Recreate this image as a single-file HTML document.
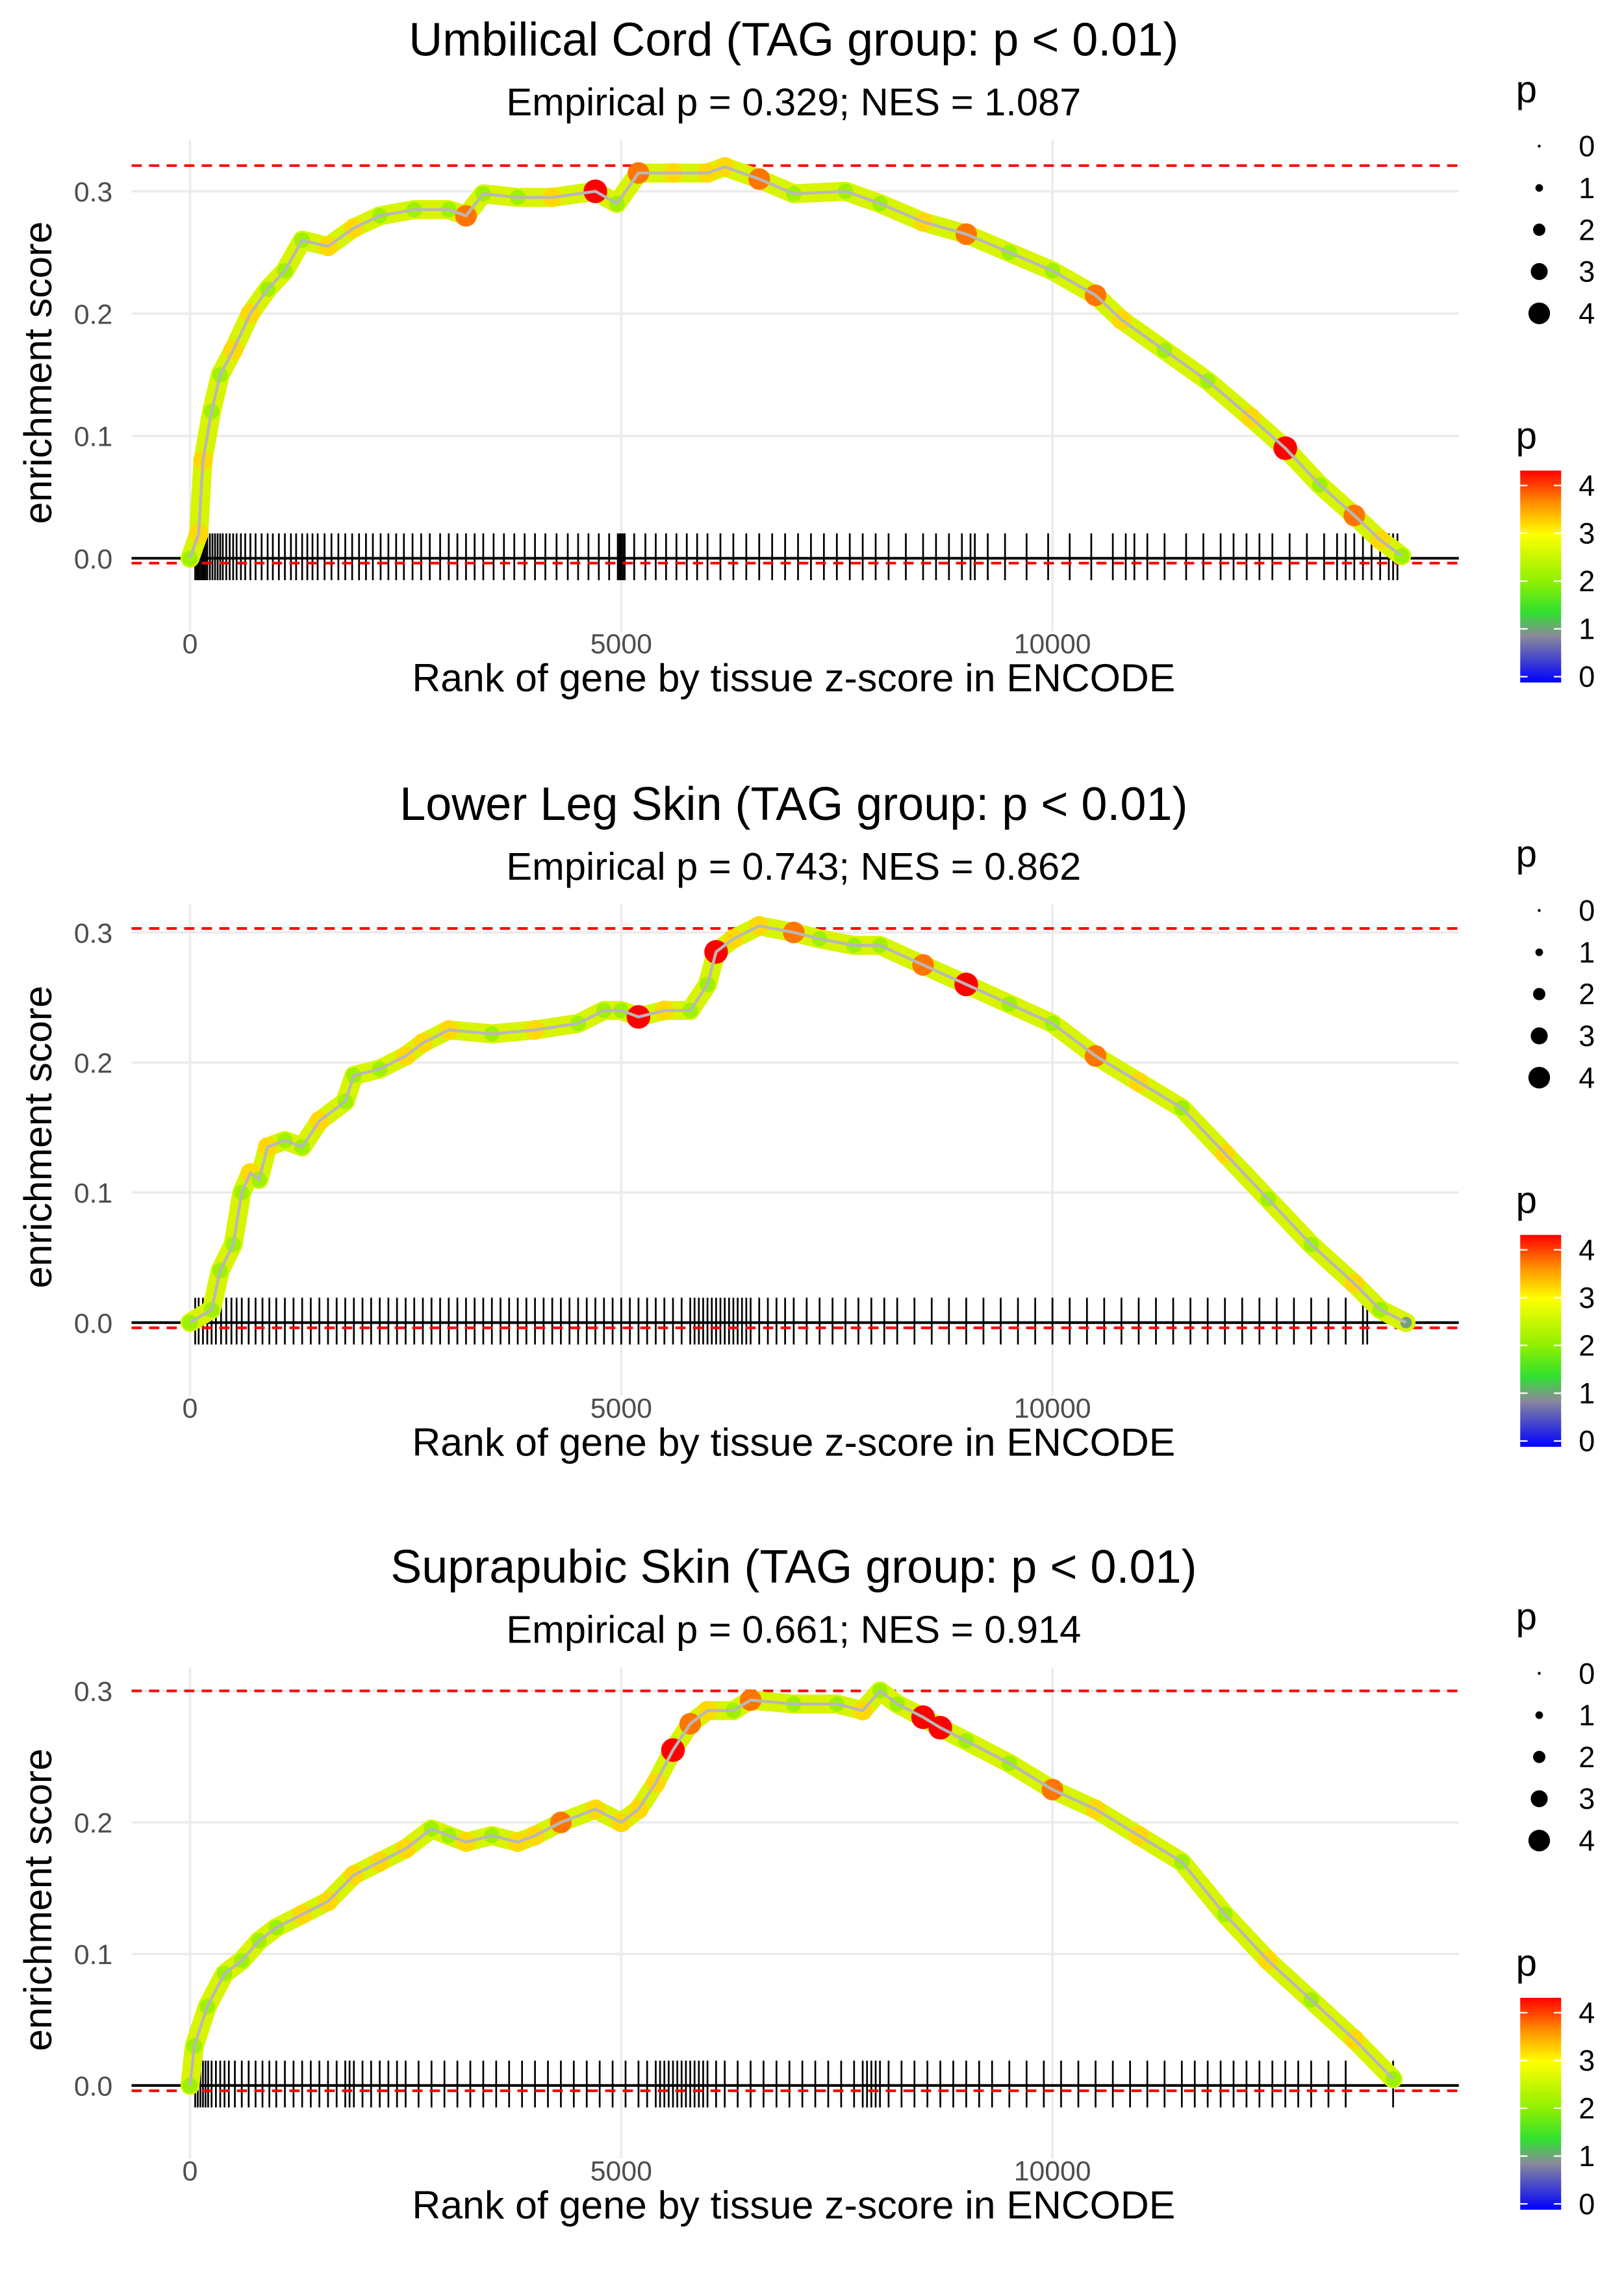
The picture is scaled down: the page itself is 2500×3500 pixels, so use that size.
<!DOCTYPE html>
<html><head><meta charset="utf-8"><style>
html,body{margin:0;padding:0;background:#fff;}
svg{display:block;font-family:"Liberation Sans","DejaVu Sans",sans-serif;}
</style></head>
<body>
<svg id="chart" width="2500" height="3500" viewBox="0 0 1111 1556" preserveAspectRatio="none" xmlns="http://www.w3.org/2000/svg">
<defs>
<linearGradient id="pgrad" x1="0" y1="1" x2="0" y2="0">
<stop offset="0" stop-color="#0000ff"/><stop offset="0.22" stop-color="#8a8a9a"/><stop offset="0.33" stop-color="#30e030"/><stop offset="0.48" stop-color="#90f000"/><stop offset="0.7" stop-color="#ffff00"/><stop offset="0.85" stop-color="#ff8c00"/><stop offset="1" stop-color="#ff0000"/>
</linearGradient>
</defs>
</svg>
<script>
const xTicks=[0,5000,10000];
const yTicks=[0,0.1,0.2,0.3];
const yTickLabels=["0.0","0.1","0.2","0.3"];
const titles=["Umbilical Cord (TAG group: p < 0.01)","Lower Leg Skin (TAG group: p < 0.01)","Suprapubic Skin (TAG group: p < 0.01)"];
const subtitles=["Empirical p = 0.329; NES = 1.087","Empirical p = 0.743; NES = 0.862","Empirical p = 0.661; NES = 0.914"];
const maxES=[0.321,0.303,0.3];
const minES=[-0.004,-0.004,-0.004];
const rank1=[0,100,150,250,350,500,700,900,1100,1300,1600,1900,2200,2600,3000,3200,3400,3800,4200,4700,4950,5200,5600,6000,6200,6600,7000,7600,8000,8500,9000,9500,10000,10500,10800,11300,11800,12300,12700,13100,13500,13800,14050];
const es1=[0,0.02,0.08,0.12,0.15,0.17,0.2,0.22,0.235,0.26,0.255,0.27,0.28,0.285,0.285,0.28,0.298,0.295,0.295,0.3,0.29,0.315,0.315,0.315,0.32,0.31,0.298,0.3,0.29,0.275,0.265,0.25,0.235,0.215,0.195,0.17,0.145,0.115,0.09,0.06,0.035,0.015,0.002];
const p1=[2,3,3,2,2,3,3,2,2,2,3,3,2,2,2,3.5,2,2,3,4,2,3.5,3,3,3,3.5,2,2,2,3,3.5,2,2,3.5,3,2,2,3,4,2,3.5,3,2];
const rank2=[0,250,350,500,600,700,800,900,1100,1300,1500,1800,1900,2200,2500,2700,3000,3500,4000,4500,4800,5000,5200,5500,5800,6000,6100,6300,6600,7000,7300,7700,8000,8500,9000,9500,10000,10500,11000,11500,12000,12500,13000,13500,13800,14100];
const es2=[0,0.01,0.04,0.06,0.1,0.115,0.11,0.135,0.14,0.135,0.155,0.17,0.19,0.195,0.205,0.215,0.225,0.222,0.225,0.23,0.24,0.24,0.235,0.24,0.24,0.26,0.285,0.295,0.305,0.3,0.295,0.29,0.29,0.275,0.26,0.245,0.23,0.205,0.185,0.165,0.13,0.095,0.06,0.03,0.01,0];
const p2=[2,2,2,2,2,3,2,3,2,2,3,2,2,2,3,3,3,2,3,2,2,2,4,3,2,2,4,3,3,3.5,2,2,2,3.5,4,2,2,3.5,3,2,3,2,2,3,2,1];
const rank3=[0,50,200,400,600,800,1000,1300,1600,1900,2200,2500,2800,3000,3200,3500,3800,4000,4300,4700,5000,5200,5400,5600,5800,6000,6300,6500,7000,7500,7800,8000,8200,8500,8700,9000,9500,10000,10500,11000,11500,12000,12500,13000,13500,13950];
const es3=[0,0.03,0.06,0.085,0.095,0.11,0.12,0.13,0.14,0.16,0.17,0.18,0.195,0.19,0.185,0.19,0.185,0.19,0.2,0.21,0.2,0.21,0.23,0.255,0.275,0.285,0.285,0.293,0.29,0.29,0.285,0.3,0.29,0.28,0.272,0.262,0.245,0.225,0.21,0.19,0.17,0.13,0.095,0.065,0.035,0.005];
const p3=[2,2,2,2,2,2,2,3,3,3,3,3,2,2,3,2,3,3,3.5,3,3,3,3,4,3.5,3,2,3.5,2,2,3,2,2,4,4,2,2,3.5,3,3,2,2,3,2,3,2];
const hits1=[60,80,100,120,140,160,180,200,230,260,290,320,350,380,420,460,500,540,590,640,700,760,830,900,960,1030,1100,1170,1230,1300,1360,1420,1480,1560,1640,1720,1800,1880,1960,2040,2120,2210,2300,2390,2480,2580,2680,2780,2900,3000,3100,3200,3300,3400,3520,3640,3760,3880,4000,4120,4250,4380,4500,4620,4740,4860,4960,4980,5000,5020,5040,5150,5280,5400,5520,5640,5760,5880,6000,6150,6300,6450,6600,6750,6900,7050,7200,7350,7500,7650,7800,7950,8100,8300,8500,8650,8800,8950,9050,9100,9250,9450,9700,9950,10200,10450,10700,10850,10950,11100,11300,11550,11750,11950,12100,12250,12400,12550,12750,12950,13150,13300,13400,13500,13600,13700,13800,13900,13950,14000];
const hits2=[60,100,150,200,250,300,360,420,480,540,600,680,760,840,920,1000,1100,1200,1300,1400,1500,1600,1700,1800,1900,2000,2100,2200,2300,2400,2500,2600,2700,2800,2900,3000,3100,3200,3300,3400,3500,3600,3700,3800,3900,4000,4100,4200,4300,4400,4500,4600,4700,4800,4900,5000,5100,5200,5300,5400,5500,5600,5700,5800,5850,5900,5950,6000,6050,6100,6150,6200,6250,6300,6350,6400,6450,6500,6600,6700,6800,6900,7000,7150,7300,7450,7600,7750,7900,8050,8200,8400,8600,8800,9000,9200,9400,9600,9800,10000,10200,10400,10600,10800,11000,11200,11400,11600,11800,12000,12200,12400,12600,12800,13000,13200,13400,13600,13650];
const hits3=[60,90,120,150,180,210,250,300,350,400,450,520,600,680,760,840,920,1000,1100,1200,1300,1400,1500,1600,1700,1800,1850,1900,2000,2100,2200,2300,2400,2500,2650,2800,2950,3100,3250,3400,3550,3700,3850,4000,4150,4300,4450,4600,4750,4900,5050,5200,5300,5400,5450,5500,5550,5600,5650,5700,5750,5800,5850,5900,5950,6000,6100,6200,6350,6500,6650,6800,6950,7100,7250,7400,7550,7700,7800,7850,7900,7950,8000,8100,8250,8400,8550,8700,8850,9000,9150,9300,9500,9700,9900,10100,10300,10500,10700,10900,11100,11300,11500,11650,11800,11950,12100,12250,12400,12550,12700,12850,13000,13200,13400,13950];
</script>
<script>
const NS="http://www.w3.org/2000/svg";
const svg=document.getElementById('chart');
function mk(tag,attrs,parent,text){const e=document.createElementNS(NS,tag);for(const k in attrs)e.setAttribute(k,attrs[k]);if(text!==undefined)e.textContent=text;(parent||svg).appendChild(e);return e;}
function pColor(p){const stops=[[0,[0,0,255]],[0.9,[138,138,154]],[1.3,[48,224,48]],[1.9,[144,240,0]],[2.8,[255,255,0]],[3.4,[255,140,0]],[4,[255,0,0]]];
for(let i=1;i<stops.length;i++){if(p<=stops[i][0]){const a=stops[i-1],b=stops[i];const t=(p-a[0])/(b[0]-a[0]);return 'rgb('+a[1].map((v,j)=>Math.round(v+(b[1][j]-v)*t)).join(',')+')';}}return 'rgb(255,0,0)';}
const xScale=r=>130+r*0.059;
const panels=[
 {off:0,y0:382,k:837,rank:rank1,es:es1,p:p1,hits:hits1},
 {off:523,y0:905,k:890,rank:rank2,es:es2,p:p2,hits:hits2},
 {off:1045,y0:1427,k:900,rank:rank3,es:es3,p:p3,hits:hits3}];
panels.forEach((P,i)=>{
 const g=mk('g',{});
 
 
 const yS=v=>P.y0-v*P.k;
 const t=mk('text',{x:543,y:P.off+38,'text-anchor':'middle','font-size':'32',fill:'#000'},g,titles[i]);
 
 
 const st=mk('text',{x:543,y:P.off+79,'text-anchor':'middle','font-size':'26.5',fill:'#000'},g,subtitles[i]);
 
 
 xTicks.forEach(v=>{const l=mk('line',{x1:xScale(v),x2:xScale(v),y1:P.off+96,y2:P.off+432,stroke:'#ebebeb','stroke-width':1.6},g);
  
  
  const tl=mk('text',{x:xScale(v),y:P.off+447,'text-anchor':'middle','font-size':'19',fill:'#4d4d4d'},g,String(v));
  
  });
 yTicks.forEach((v,j)=>{const l=mk('line',{x1:90,x2:998,y1:yS(v),y2:yS(v),stroke:'#ebebeb','stroke-width':1.6},g);
  
  
  const tl=mk('text',{x:77,y:yS(v)+7,'text-anchor':'end','font-size':'19',fill:'#4d4d4d'},g,yTickLabels[j]);
  
  });
 const yt=mk('text',{transform:'translate(35,'+(P.off+255)+') rotate(-90)','text-anchor':'middle','font-size':'27',fill:'#000'},g,'enrichment score');
 
 
 const xt=mk('text',{x:543,y:P.off+473,'text-anchor':'middle','font-size':'27',fill:'#000'},g,'Rank of gene by tissue z-score in ENCODE');
 
 
 P.hits.forEach(h=>{const r=mk('line',{x1:xScale(h),x2:xScale(h),y1:P.y0-17,y2:P.y0+15,stroke:'#000','stroke-width':1.2},g);
  
  });
 const zl=mk('line',{x1:90,x2:998,y1:P.y0,y2:P.y0,stroke:'#000','stroke-width':1.8},g);
 
 
 [maxES[i],minES[i]].forEach(v=>{const d=mk('line',{x1:90,x2:998,y1:yS(v),y2:yS(v),stroke:'#ff0000','stroke-width':1.8,'stroke-dasharray':'7,5'},g);
  
  });
 const pts=P.rank.map((r,j)=>xScale(r)+','+yS(P.es[j])).join(' ');
 const band=mk('polyline',{points:pts,fill:'none',stroke:'#d8f400','stroke-width':13,'stroke-linejoin':'round','stroke-linecap':'round'},g);
 
 
 P.rank.forEach((r,j)=>{const c=mk('circle',{cx:xScale(r),cy:yS(P.es[j]),r:2.5+P.p[j]*1.4,fill:pColor(P.p[j])},g);
  
  });
 const ln=mk('polyline',{points:pts,fill:'none',stroke:'#b8b8b8','stroke-width':2},g);
 
 
 const lg=mk('g',{},g);
 
 
 mk('text',{x:1037,y:P.off+70,'font-size':'26',fill:'#000'},lg,'p');
 [0,1,2,3,4].forEach((v,j)=>{const yy=P.off+100+j*28.6;
  const c=mk('circle',{cx:1053,cy:yy,r:1+v*1.6,fill:'#000'},lg);
  
  
  mk('text',{x:1080,y:yy+7,'font-size':'20',fill:'#000'},lg,String(v));});
 const cg=mk('g',{},g);
 
 
 mk('text',{x:1037,y:P.off+307,'font-size':'26',fill:'#000'},cg,'p');
 const bar=mk('rect',{x:1040,y:P.off+322,width:28,height:145,fill:'url(#pgrad)'},cg);
 
 
 [0,1,2,3,4].forEach(v=>{const yy=P.off+463-v*32.7;
  mk('line',{x1:1040,x2:1045,y1:yy,y2:yy,stroke:'#fff','stroke-width':1},cg);
  mk('line',{x1:1063,x2:1068,y1:yy,y2:yy,stroke:'#fff','stroke-width':1},cg);
  mk('text',{x:1080,y:yy+7,'font-size':'20',fill:'#000'},cg,String(v));});
});
</script>
</body></html>
